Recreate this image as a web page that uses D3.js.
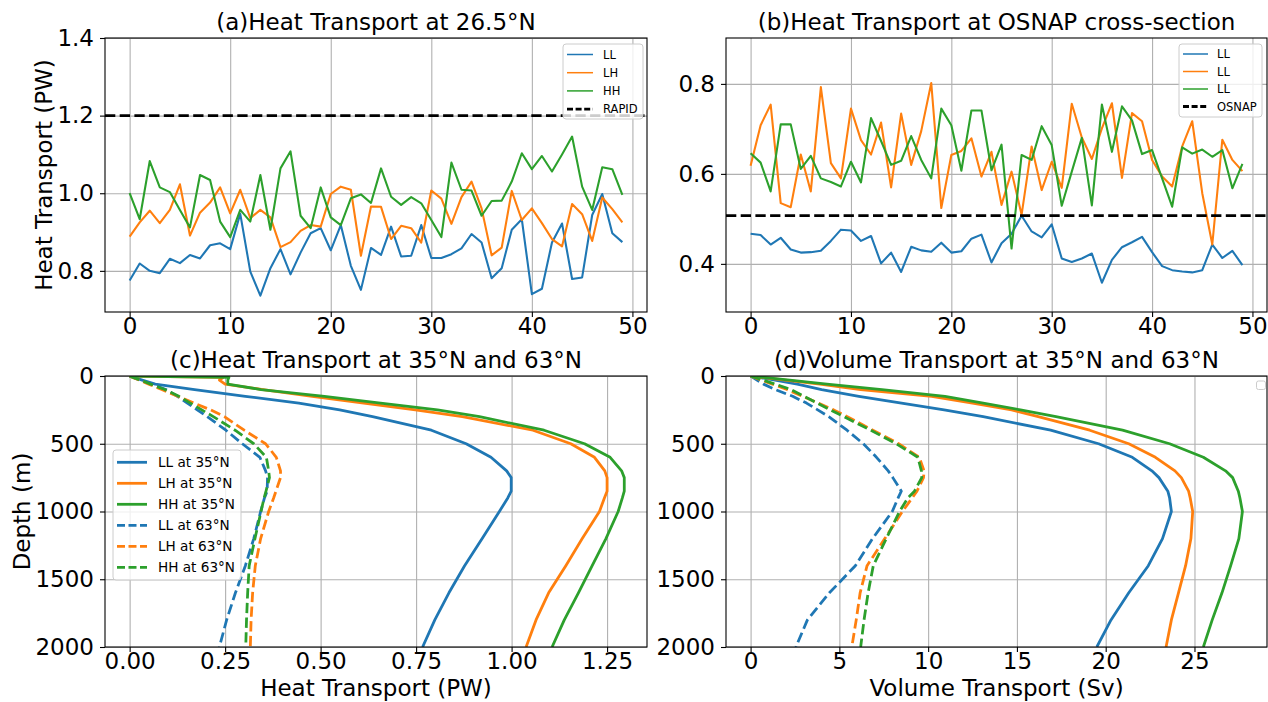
<!DOCTYPE html>
<html><head><meta charset="utf-8">
<script src="https://cdn.jsdelivr.net/npm/d3@7"></script>
<style>body{margin:0;background:#fff}svg{display:block;font-family:"DejaVu Sans",sans-serif}</style>
</head><body><svg id="c" width="1268" height="702"></svg>
<script>
// ---------- DATA ----------
const idx = [0,1,2,3,4,5,6,7,8,9,10,11,12,13,14,15,16,17,18,19,20,21,22,23,24,25,26,27,28,29,30,31,32,33,34,35,36,37,38,39,40,41,42,43,44,45,46,47,48,49];
// (a) heat transport at 26.5N (PW)
const a_LL = [0.775,0.819,0.800,0.794,0.831,0.820,0.841,0.832,0.866,0.871,0.856,0.947,0.798,0.736,0.807,0.856,0.791,0.847,0.897,0.910,0.853,0.918,0.813,0.751,0.859,0.841,0.914,0.837,0.839,0.918,0.833,0.833,0.843,0.858,0.895,0.873,0.781,0.807,0.906,0.933,0.740,0.754,0.873,0.922,0.779,0.783,0.944,0.998,0.897,0.874];
const a_LH = [0.888,0.925,0.955,0.923,0.957,1.023,0.891,0.950,0.976,1.015,0.948,1.009,0.936,0.957,0.938,0.861,0.874,0.903,0.918,0.914,0.998,1.017,1.009,0.839,0.966,0.965,0.882,0.916,0.910,0.873,1.007,0.986,0.921,0.990,1.030,0.961,0.840,0.860,1.006,0.931,0.961,0.923,0.882,0.863,0.972,0.946,0.877,0.989,0.959,0.925];
const a_HH = [1.000,0.933,1.083,1.015,1.003,0.957,0.912,1.047,1.034,0.927,0.887,0.957,0.927,1.047,0.906,1.064,1.108,0.942,0.910,1.015,0.938,0.918,0.987,0.997,0.975,1.064,0.991,0.970,0.990,0.974,0.931,0.887,1.079,1.009,1.007,0.942,0.980,0.981,1.030,1.103,1.062,1.096,1.056,1.100,1.146,1.017,0.957,1.067,1.062,0.996];
const rapid = 1.2;
// (b) heat transport at OSNAP (PW)
const b_1 = [0.467,0.464,0.443,0.458,0.432,0.425,0.426,0.429,0.451,0.476,0.474,0.451,0.462,0.401,0.425,0.382,0.438,0.430,0.427,0.447,0.425,0.428,0.456,0.465,0.403,0.446,0.467,0.507,0.472,0.459,0.488,0.412,0.404,0.412,0.423,0.358,0.409,0.437,0.448,0.460,0.426,0.395,0.386,0.383,0.381,0.386,0.443,0.413,0.429,0.397];
const b_2 = [0.618,0.708,0.754,0.535,0.526,0.643,0.561,0.793,0.624,0.590,0.745,0.675,0.643,0.714,0.570,0.734,0.620,0.695,0.802,0.524,0.642,0.651,0.679,0.594,0.649,0.531,0.605,0.509,0.661,0.564,0.627,0.569,0.756,0.681,0.633,0.701,0.757,0.591,0.735,0.717,0.631,0.594,0.572,0.661,0.717,0.557,0.443,0.676,0.631,0.606];
const b_3 = [0.646,0.625,0.561,0.710,0.710,0.611,0.640,0.590,0.582,0.572,0.627,0.581,0.724,0.673,0.620,0.629,0.684,0.631,0.590,0.745,0.708,0.607,0.741,0.741,0.608,0.665,0.434,0.642,0.631,0.706,0.664,0.529,0.605,0.680,0.530,0.754,0.649,0.750,0.719,0.644,0.653,0.590,0.527,0.659,0.645,0.654,0.638,0.653,0.568,0.622];
const osnap = 0.507;
// (c),(d) profiles vs depth
const depth = [0,10,30,60,100,150,200,250,300,400,500,600,700,750,850,900,1000,1200,1400,1600,1800,2000];
const c_LL35 = [0,0.011,0.033,0.067,0.170,0.303,0.443,0.550,0.636,0.790,0.881,0.946,0.987,0.999,0.999,0.990,0.968,0.923,0.877,0.836,0.799,0.767];
const c_LH35 = [0,0.245,0.235,0.250,0.349,0.478,0.613,0.748,0.871,1.056,1.155,1.217,1.244,1.250,1.250,1.243,1.230,1.185,1.142,1.097,1.064,1.038];
const c_HH35 = [0,0.260,0.257,0.257,0.344,0.510,0.657,0.806,0.916,1.085,1.191,1.258,1.288,1.295,1.295,1.290,1.279,1.247,1.211,1.175,1.138,1.106];
const c_LL63 = [0,0.009,0.028,0.057,0.095,0.125,0.151,0.177,0.203,0.252,0.295,0.341,0.356,0.361,0.360,0.353,0.343,0.325,0.303,0.277,0.254,0.235];
const c_LH63 = [0,0.008,0.025,0.050,0.084,0.126,0.169,0.212,0.248,0.300,0.356,0.384,0.395,0.395,0.383,0.377,0.364,0.343,0.329,0.322,0.318,0.316];
const c_HH63 = [0,0.009,0.028,0.055,0.092,0.129,0.159,0.189,0.219,0.276,0.325,0.358,0.364,0.366,0.357,0.352,0.344,0.328,0.313,0.309,0.306,0.304];
const d_LL35 = [0,0.46,1.38,2.63,4.0,6.1,8.5,10.9,13.1,16.9,19.6,21.5,22.6,23.0,23.5,23.6,23.7,23.2,22.4,21.3,20.3,19.5];
const d_LH35 = [0,0.65,1.96,3.9,6.2,10.2,12.5,14.7,16.2,19.1,21.3,22.8,23.9,24.26,24.67,24.76,24.9,24.8,24.5,24.1,23.7,23.4];
const d_HH35 = [0,0.73,2.2,4.3,7.4,10.95,13.1,15.2,17.2,20.95,23.6,25.5,26.75,27.15,27.47,27.56,27.7,27.5,27.04,26.55,26.0,25.5];
const d_LL63 = [0,0.12,0.36,0.73,1.4,2.37,3.15,3.78,4.4,5.43,6.35,7.09,7.75,8.01,8.49,8.31,7.98,6.87,5.9,4.44,3.2,2.55];
const d_LH63 = [0,0.2,0.61,1.23,2.05,2.94,3.81,4.68,5.45,6.89,8.34,9.5,9.77,9.74,9.37,9.1,8.55,7.56,6.56,6.17,5.95,5.7];
const d_HH63 = [0,0.23,0.69,1.38,2.28,3.02,3.76,4.5,5.25,6.76,8.21,9.42,9.62,9.64,9.23,8.86,8.39,7.64,6.91,6.62,6.39,6.2];
// ticks / labels
const tsTicks = [0,10,20,30,40,50];
const aYTicks = [0.8,1.0,1.2,1.4];
const bYTicks = [0.4,0.6,0.8];
const depthTicks = [0,500,1000,1500,2000];
const cXTicks = [0,0.25,0.5,0.75,1.0,1.25];
const dXTicks = [0,5,10,15,20,25];
const titles = ["(a)Heat Transport at 26.5°N","(b)Heat Transport at OSNAP cross-section","(c)Heat Transport at 35°N and 63°N","(d)Volume Transport at 35°N and 63°N"];
const legA = ["LL","LH","HH","RAPID"];
const legB = ["LL","LL","LL","OSNAP"];
const legC = ["LL at 35°N","LH at 35°N","HH at 35°N","LL at 63°N","LH at 63°N","HH at 63°N"];

// ---------- DRAW ----------
const C = ["#1f77b4","#ff7f0e","#2ca02c"];
const svg = d3.select("#c");
const FS = 23;
const DASH = "10.3,4.4";

const boxes = {
  a:{l:105,r:647,t:38,b:312},
  b:{l:726,r:1267,t:38,b:312},
  c:{l:105,r:647,t:376,b:647},
  d:{l:726,r:1267,t:376,b:647}
};

function axes(key, xs, ys, xticks, yticks, xfmt, yfmt, title){
  const bx = boxes[key];
  const g = svg.append("g");
  const cid = "clip"+key;
  svg.append("clipPath").attr("id",cid).append("rect")
    .attr("x",bx.l).attr("y",bx.t).attr("width",bx.r-bx.l).attr("height",bx.b-bx.t);
  const gx = g.append("g").attr("transform",`translate(0,${bx.b})`)
    .call(d3.axisBottom(xs).tickValues(xticks).tickSize(-(bx.b-bx.t)).tickFormat(""));
  gx.select(".domain").remove();
  gx.selectAll("line").attr("stroke","#b0b0b0").attr("stroke-width",1.1);
  const gy = g.append("g").attr("transform",`translate(${bx.l},0)`)
    .call(d3.axisLeft(ys).tickValues(yticks).tickSize(-(bx.r-bx.l)).tickFormat(""));
  gy.select(".domain").remove();
  gy.selectAll("line").attr("stroke","#b0b0b0").attr("stroke-width",1.1);
  const data = g.append("g").attr("clip-path",`url(#${cid})`);
  const ax = g.append("g").attr("transform",`translate(0,${bx.b})`)
    .call(d3.axisBottom(xs).tickValues(xticks).tickSize(5).tickPadding(1).tickFormat(xfmt));
  const ay = g.append("g").attr("transform",`translate(${bx.l},0)`)
    .call(d3.axisLeft(ys).tickValues(yticks).tickSize(5).tickPadding(6).tickFormat(yfmt));
  [ax,ay].forEach(a=>{
    a.select(".domain").remove();
    a.selectAll("line").attr("stroke","#000").attr("stroke-width",1.1);
    a.selectAll("text").attr("font-size",FS).attr("fill","#000").attr("font-family","DejaVu Sans");
  });
  g.append("rect").attr("x",bx.l).attr("y",bx.t).attr("width",bx.r-bx.l).attr("height",bx.b-bx.t)
    .attr("fill","none").attr("stroke","#000").attr("stroke-width",1.1);
  g.append("text").attr("x",(bx.l+bx.r)/2).attr("y",bx.t-8).attr("text-anchor","middle")
    .attr("font-size",FS).text(title);
  return {g,data,bx};
}

function legend(g, x, y, w, h, items, fs, rowH, first){
  const lg = g.append("g");
  lg.append("rect").attr("x",x).attr("y",y).attr("width",w).attr("height",h).attr("rx",3)
    .attr("fill","#fff").attr("fill-opacity",0.8).attr("stroke","#cccccc").attr("stroke-width",1);
  items.forEach((it,i)=>{
    const yy = y+first+i*rowH;
    lg.append("line").attr("x1",x+it.hx1).attr("x2",x+it.hx2).attr("y1",yy).attr("y2",yy)
      .attr("stroke",it.color).attr("stroke-width",it.sw).attr("stroke-dasharray",it.dash||null);
    lg.append("text").attr("x",x+it.tx).attr("y",yy).attr("dy","0.36em").attr("font-size",fs).text(it.label);
  });
}

// (a)
{
  const bx = boxes.a;
  const xs = d3.scaleLinear().domain([-2.45,51.45]).range([bx.l,bx.r]);
  const ys = d3.scaleLinear().domain([0.694,1.4]).range([bx.b,bx.t]);
  const P = axes("a",xs,ys,tsTicks,aYTicks,d3.format("d"),d3.format(".1f"),titles[0]);
  const line = d3.line().x((d,i)=>xs(idx[i])).y(d=>ys(d));
  [a_LL,a_LH,a_HH].forEach((s,k)=>P.data.append("path").attr("d",line(s)).attr("fill","none").attr("stroke",C[k]).attr("stroke-width",2.08).attr("stroke-linejoin","round"));
  P.data.append("line").attr("x1",bx.l).attr("x2",bx.r).attr("y1",ys(rapid)).attr("y2",ys(rapid))
    .attr("stroke","#000").attr("stroke-width",2.78).attr("stroke-dasharray",DASH);
  legend(P.g,563,44,80,75,legA.map((l,i)=>({label:l,color:i<3?C[i]:"#000",sw:i<3?1.5:2.78,dash:i<3?null:"6,2.6",hx1:4,hx2:30,tx:40})),11.5,18.2,10.5);
  svg.append("text").attr("transform",`translate(52,${(bx.t+bx.b)/2}) rotate(-90)`).attr("text-anchor","middle")
    .attr("font-size",FS).text("Heat Transport (PW)");
}
// (b)
{
  const bx = boxes.b;
  const xs = d3.scaleLinear().domain([-2.45,51.45]).range([bx.l,bx.r]);
  const ys = d3.scaleLinear().domain([0.293,0.902]).range([bx.b,bx.t]);
  const P = axes("b",xs,ys,tsTicks,bYTicks,d3.format("d"),d3.format(".1f"),titles[1]);
  const line = d3.line().x((d,i)=>xs(idx[i])).y(d=>ys(d));
  [b_1,b_2,b_3].forEach((s,k)=>P.data.append("path").attr("d",line(s)).attr("fill","none").attr("stroke",C[k]).attr("stroke-width",2.08).attr("stroke-linejoin","round"));
  P.data.append("line").attr("x1",bx.l).attr("x2",bx.r).attr("y1",ys(osnap)).attr("y2",ys(osnap))
    .attr("stroke","#000").attr("stroke-width",2.78).attr("stroke-dasharray",DASH);
  legend(P.g,1179,44,83,73,legB.map((l,i)=>({label:l,color:i<3?C[i]:"#000",sw:i<3?1.5:2.78,dash:i<3?null:"6,2.6",hx1:4,hx2:29,tx:38})),11.5,17.5,10);
}
// (c)
{
  const bx = boxes.c;
  const xs = d3.scaleLinear().domain([-0.0645,1.3545]).range([bx.l,bx.r]);
  const ys = d3.scaleLinear().domain([0,2000]).range([bx.t,bx.b]);
  const P = axes("c",xs,ys,cXTicks,depthTicks,d3.format(".2f"),d3.format("d"),titles[2]);
  const line = d3.line().x(d=>xs(d)).y((d,i)=>ys(depth[i]));
  const ser = [c_LL35,c_LH35,c_HH35,c_LL63,c_LH63,c_HH63];
  ser.forEach((s,k)=>P.data.append("path").attr("d",line(s)).attr("fill","none").attr("stroke",C[k%3]).attr("stroke-width",2.78)
    .attr("stroke-dasharray",k>=3?DASH:null).attr("stroke-linejoin","round"));
  legend(P.g,113,450,128,130,legC.map((l,i)=>({label:l,color:C[i%3],sw:2.78,dash:i>=3?"8,3.5":null,hx1:4,hx2:34,tx:45})),13.6,21,12.3);
  svg.append("text").attr("transform",`translate(30,${(bx.t+bx.b)/2}) rotate(-90)`).attr("text-anchor","middle")
    .attr("font-size",FS).text("Depth (m)");
  svg.append("text").attr("x",(bx.l+bx.r)/2).attr("y",695.5).attr("text-anchor","middle").attr("font-size",FS).text("Heat Transport (PW)");
}
// (d)
{
  const bx = boxes.d;
  const xs = d3.scaleLinear().domain([-1.385,29.085]).range([bx.l,bx.r]);
  const ys = d3.scaleLinear().domain([0,2000]).range([bx.t,bx.b]);
  const P = axes("d",xs,ys,dXTicks,depthTicks,d3.format("d"),d3.format("d"),titles[3]);
  const line = d3.line().x(d=>xs(d)).y((d,i)=>ys(depth[i]));
  const ser = [d_LL35,d_LH35,d_HH35,d_LL63,d_LH63,d_HH63];
  ser.forEach((s,k)=>P.data.append("path").attr("d",line(s)).attr("fill","none").attr("stroke",C[k%3]).attr("stroke-width",2.78)
    .attr("stroke-dasharray",k>=3?DASH:null).attr("stroke-linejoin","round"));
  P.g.append("rect").attr("x",1256.5).attr("y",381).attr("width",9).attr("height",8.5).attr("rx",2)
    .attr("fill","#fff").attr("fill-opacity",0.8).attr("stroke","#cccccc").attr("stroke-width",1);
  svg.append("text").attr("x",(bx.l+bx.r)/2).attr("y",695.5).attr("text-anchor","middle").attr("font-size",FS).text("Volume Transport (Sv)");
}
</script></body></html>
